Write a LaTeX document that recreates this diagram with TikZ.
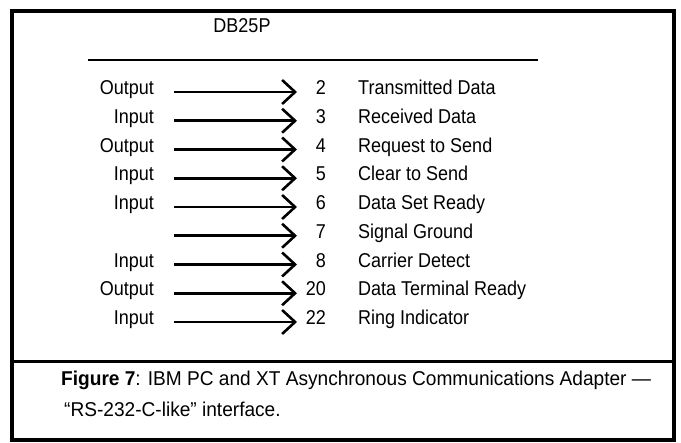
\documentclass[tikz,border=0pt]{standalone}
\usepackage{fontspec}
\setmainfont[FakeStretch=0.9]{Liberation Sans}
\newfontfamily\capfont[FakeStretch=0.955]{Liberation Sans}
\usetikzlibrary{arrows.meta}
\begin{document}
\begin{tikzpicture}[x=1pt,y=-1pt,
  txt/.style={inner sep=0pt,font=\fontsize{20}{24}\selectfont},
  captxt/.style={inner sep=0pt,anchor=mid west,font=\capfont\fontsize{20}{24}\selectfont},
  dirlab/.style={txt,anchor=mid east},
  pinno/.style={txt,anchor=mid east},
  pinname/.style={txt,anchor=mid west},
  sig/.style={line width=2.8pt,-{Straight Barb[length=13pt,width=24pt,line width=2.6pt]}},
  frame/.style={line width=3.5pt}]
\useasboundingbox (0,0) rectangle (681,443);
% frame
\draw[frame] (12,11) rectangle (674,440);
\draw[line width=3pt] (12,362) -- (674,362);
% header
\node[txt,anchor=mid] (hdr) at (242,30) {DB25P};
\coordinate (r1) at (88,60);
\coordinate (r2) at (538,60);
\draw[line width=2pt] (r1) -- (r2);
% rows
\foreach \i/\dir/\num/\name [count=\k from 0] in {
  a/Output/2/Transmitted Data,
  b/Input/3/Received Data,
  c/Output/4/Request to Send,
  d/Input/5/Clear to Send,
  e/Input/6/Data Set Ready,
  f//7/Signal Ground,
  g/Input/8/Carrier Detect,
  h/Output/20/Data Terminal Ready,
  i/Input/22/Ring Indicator}{
  \pgfmathsetmacro\yy{92+28.75*\k}
  \node[dirlab] (d\i) at (154,\yy) {\dir};
  \coordinate (s\i) at (174,\yy);
  \coordinate (t\i) at (297,\yy);
  \draw[sig] (s\i) -- (t\i);
  \node[pinno] (n\i) at (326,\yy) {\num};
  \node[pinname] (p\i) at (358,\yy) {\name};
}
% caption
\node[captxt] (cap1) at (61,383) {\textbf{Figure 7}: IBM PC and XT Asynchronous Communications Adapter —};
\node[captxt] (cap2) at (64,414) {“RS-232-C-like” interface.};
\end{tikzpicture}
\end{document}
